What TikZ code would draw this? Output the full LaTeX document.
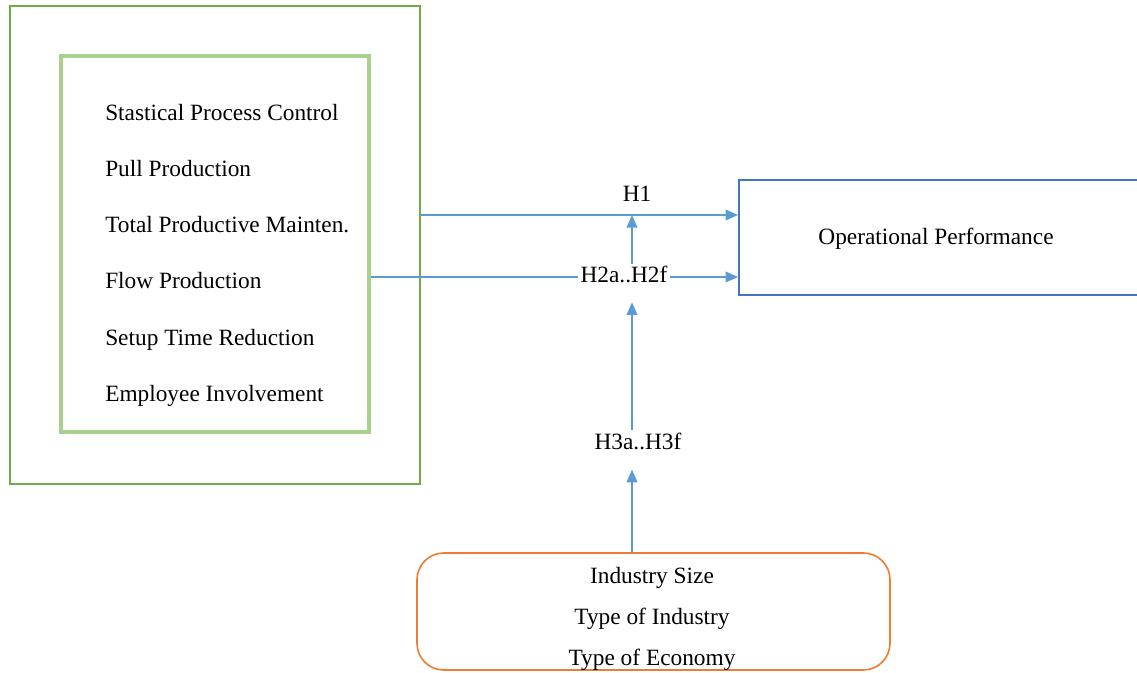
\documentclass[tikz,border=0pt]{standalone}
\usepackage{fontspec}
\setmainfont{Liberation Serif}
\usetikzlibrary{arrows.meta,fit,calc}
\definecolor{frameGreen}{RGB}{112,173,71}
\definecolor{listGreen}{RGB}{169,209,142}
\definecolor{linkBlue}{RGB}{91,155,213}
\definecolor{boxBlue}{RGB}{68,114,196}
\definecolor{ctrlOrange}{RGB}{237,125,49}
\begin{document}
\begin{tikzpicture}[x=0.75pt,y=-0.75pt,
  font=\fontsize{17.5}{21}\selectfont,
  box/.style={inner sep=0pt, fit={#1}},
  item/.style={anchor=base west, inner sep=0pt},
  lbl/.style={anchor=base, inner sep=2pt, fill=white},
  arr/.style={draw=linkBlue, line width=1.2pt,
    -{Triangle[length=9.5pt,width=8pt]}}]
\useasboundingbox (0,0) rectangle (1137,673);

% outer and inner practice frames
\node (outer) [box={(10,6) (420,484)}, draw=frameGreen, line width=1.5pt] {};
\node (inner) [box={(61,56) (369,432)}, draw=listGreen, line width=2.4pt] {};

% lean practices
\node (spc)  [item] at (105,121) {Stastical Process Control};
\node (pull) [item] at (105,177) {Pull Production};
\node (tpm)  [item] at (105,233) {Total Productive Mainten.};
\node (flow) [item] at (105,289) {Flow Production};
\node (setup)[item] at (105,345) {Setup Time Reduction};
\node (emp)  [item] at (105,401) {Employee Involvement};

% outcome
\node (op) [box={(739,180) (1141,295)}, draw=boxBlue, line width=1.2pt] {};
\node (optext) [anchor=base, inner sep=0pt] at (936,245) {Operational Performance};

% contextual factors
\node (ctx) [box={(417,553) (890,670)}, draw=ctrlOrange, line width=1.2pt,
  rounded corners=20pt] {};
\node (size) [anchor=base, inner sep=0pt] at (652,583) {Industry Size};
\node (itype)[anchor=base, inner sep=0pt] at (652,624) {Type of Industry};
\node (etype)[anchor=base, inner sep=0pt] at (652,665) {Type of Economy};

% direct and mediated links
\coordinate (rowA) at (0,215);
\coordinate (rowB) at (0,277);
\coordinate (colV) at (632,0);
\draw[arr] (outer.east |- rowA) -- (op.west |- rowA);
\draw[arr] (inner.east |- rowB) -- (op.west |- rowB);

% hypothesis labels
\node (h1) [anchor=base, inner sep=0pt] at (637,202) {H1};
\node (h2) [lbl] at (624,283) {H2a..H2f};
\node (h3) [anchor=base, inner sep=2pt] at (638,449) {H3a..H3f};

% moderation arrows
\draw[arr] (h2.north -| colV) -- (colV |- rowA);
\draw[arr, shorten >=12pt] (h3.north -| colV) -- (h2.south -| colV);
\draw[arr, shorten >=13pt] (ctx.north -| colV) -- (h3.south -| colV);
\end{tikzpicture}
\end{document}
